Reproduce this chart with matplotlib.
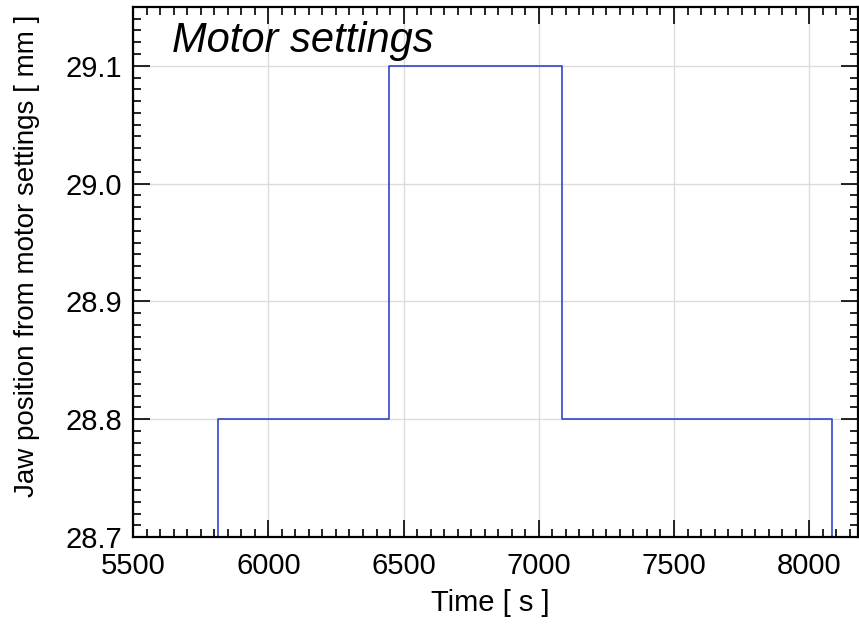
import matplotlib
matplotlib.use('Agg')
import matplotlib.pyplot as plt
from matplotlib.ticker import MultipleLocator, FormatStrFormatter

# jaw position from motor settings (step changes)
times = [5700, 5814, 6447, 7087, 8085, 8250]      # s
positions = [28.5, 28.8, 29.1, 28.8, 28.5, 28.5]  # mm

plt.rcParams['font.family'] = ['Liberation Sans', 'DejaVu Sans']

fig = plt.figure(figsize=(8.59, 6.26), dpi=100)
ax = fig.add_axes([0.155, 0.142, 0.844, 0.847])

ax.step(times, positions, where='post', color='#3344cc', linewidth=1.2)

ax.set_xlim(5500, 8181)
ax.set_ylim(28.7, 29.15)
ax.xaxis.set_major_locator(MultipleLocator(500))
ax.xaxis.set_minor_locator(MultipleLocator(50))
ax.yaxis.set_major_locator(MultipleLocator(0.1))
ax.yaxis.set_minor_locator(MultipleLocator(0.01))
ax.yaxis.set_major_formatter(FormatStrFormatter('%.1f'))

ax.grid(True, which='major', color='#dcdcdc', linewidth=1.0)
ax.tick_params(which='both', direction='in', top=True, right=True,
               labelsize=21, width=1.2)
ax.tick_params(axis='x', pad=11)
ax.tick_params(axis='y', pad=8)
ax.tick_params(which='major', length=12)
ax.tick_params(which='minor', length=6)
for s in ax.spines.values():
    s.set_linewidth(1.6)

ax.set_xlabel('Time [ s ]', fontsize=21)
ax.set_ylabel('Jaw position from motor settings [ mm ]', fontsize=20)
ax.xaxis.set_label_coords(0.492, -0.098)
ax.yaxis.set_label_coords(-0.128, 0.53)

ax.text(0.054, 0.915, 'Motor settings', transform=ax.transAxes,
        fontsize=30, style='italic', va='baseline', ha='left')

fig.savefig('out.png', dpi=100)
